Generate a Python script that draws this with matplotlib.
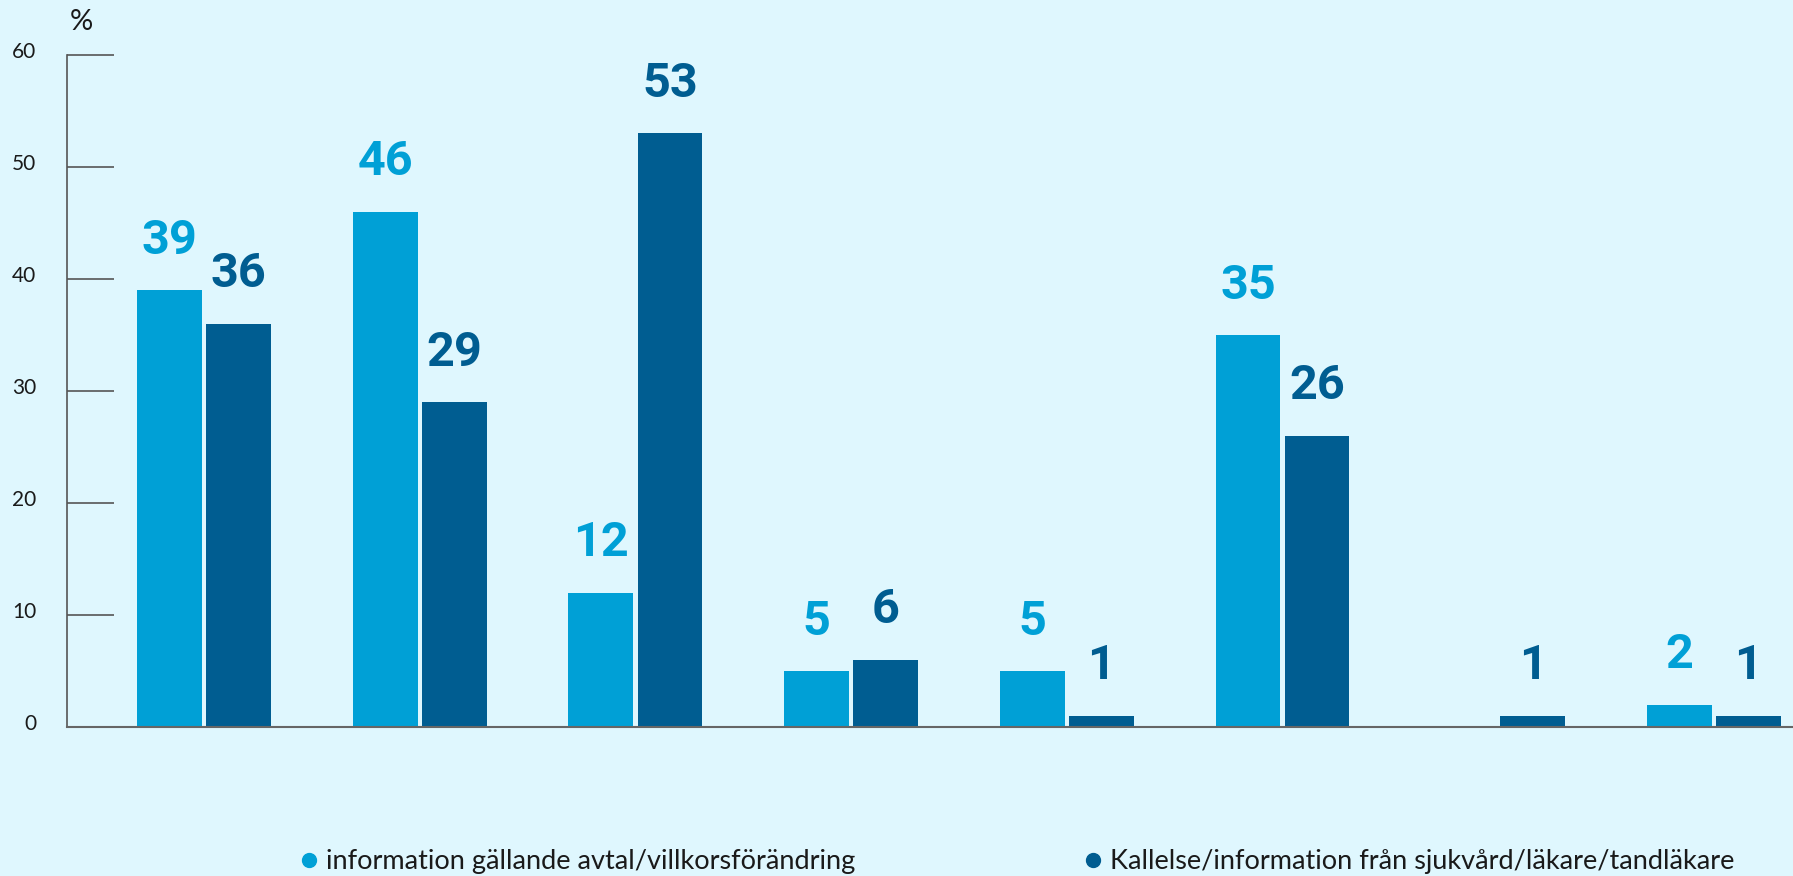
import numpy as np
import matplotlib.pyplot as plt
from matplotlib.lines import Line2D
from matplotlib.transforms import ScaledTranslation

# Series values (%)
series_names = [
    "information gällande avtal/villkorsförändring",
    "Kallelse/information från sjukvård/läkare/tandläkare",
]
info_values = [39, 46, 12, 5, 5, 35, 0, 2]
kallelse_values = [36, 29, 53, 6, 1, 26, 1, 1]
y_ticks = [0, 10, 20, 30, 40, 50, 60]

LIGHT = "#00a0d6"
DARK = "#005d91"
BG = "#dff7fe"

plt.rcParams["font.family"] = ["Lato", "DejaVu Sans"]

fig = plt.figure(figsize=(17.93, 8.76), dpi=100, facecolor=BG)
ax = fig.add_axes([67 / 1793, 149 / 876, 1 - 67 / 1793, 672 / 876])
ax.set_facecolor(BG)

x = np.arange(len(info_values))
w = 0.30
off = 0.16
ax.bar(x - off, info_values, width=w, color=LIGHT, zorder=2)
ax.bar(x + off, kallelse_values, width=w, color=DARK, zorder=2)

# value labels above the bars
for xi, v in zip(x, info_values):
    if v > 0:
        ax.annotate(str(v), (xi - off, v), xytext=(0, 19), textcoords="offset points",
                    ha="center", va="bottom", fontsize=35, fontweight="bold",
                    color=LIGHT, family="Roboto")
for xi, v in zip(x, kallelse_values):
    ax.annotate(str(v), (xi + off, v), xytext=(0, 19), textcoords="offset points",
                ha="center", va="bottom", fontsize=35, fontweight="bold",
                color=DARK, family="Roboto")

ax.set_xlim(-0.635, 7.367)
ax.set_ylim(0, 60)
ax.set_xticks([])
ax.set_yticks(y_ticks)
ax.tick_params(axis="y", direction="in", length=34, width=1.2, color="#555555",
               pad=22, labelsize=15, labelcolor="#1a1a1a")
shift = ScaledTranslation(0, 5 / 100, fig.dpi_scale_trans)
for lbl in ax.get_yticklabels():
    lbl.set_transform(lbl.get_transform() + shift)

for s in ["top", "right"]:
    ax.spines[s].set_visible(False)
ax.spines["left"].set_color("#555555")
ax.spines["left"].set_linewidth(1.2)
ax.spines["bottom"].set_color("#666666")
ax.spines["bottom"].set_linewidth(1.5)

fig.text(81 / 1793, 1 - 22 / 876, "%", ha="center", va="center", fontsize=21, color="#1a1a1a")

# legend entries sit far apart, one legend each
for name, color, xpos in [(series_names[0], LIGHT, 302), (series_names[1], DARK, 1086)]:
    h = Line2D([], [], marker="o", linestyle="", markersize=10, color=color)
    leg = fig.legend([h], [name], loc="center left",
                     bbox_to_anchor=(xpos / 1793, 1 - 862 / 876),
                     frameon=False, fontsize=19.5, handlelength=0.5,
                     handletextpad=0.4, borderpad=0, borderaxespad=0)
    for t in leg.get_texts():
        t.set_color("#1a1a1a")

fig.savefig("out.png", dpi=100, facecolor=BG)
